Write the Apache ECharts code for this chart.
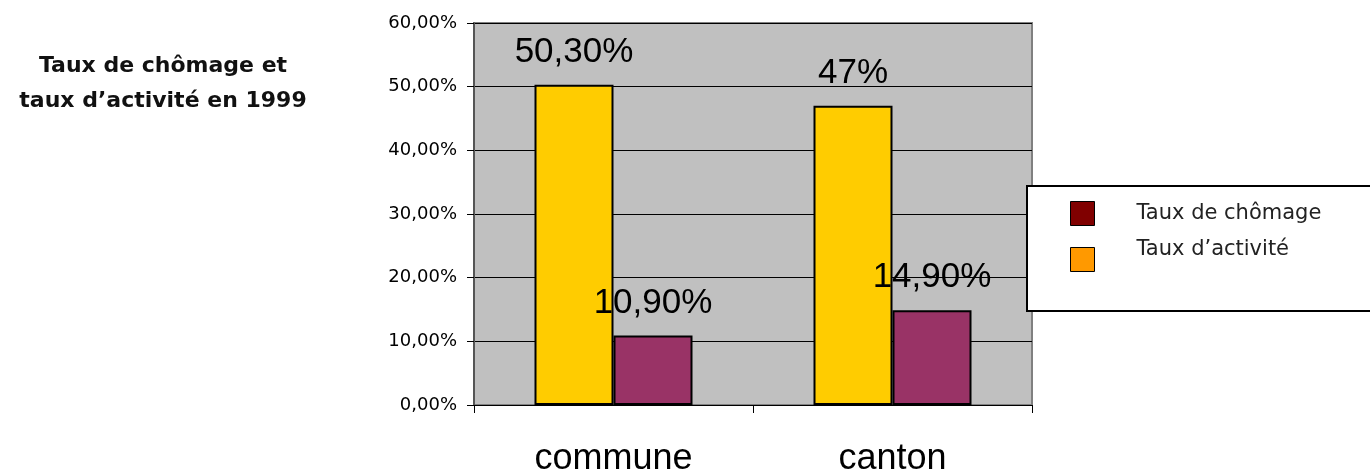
<!DOCTYPE html>
<html>
<head>
<meta charset="utf-8">
<script src="https://cdn.jsdelivr.net/npm/echarts@6/dist/echarts.min.js"></script>
<style>
  html, body { margin: 0; padding: 0; background: #fff; }
  #chart { width: 1370px; height: 470px; }
</style>
</head>
<body>
<div id="chart"></div>
<script>
  // données
  const categories = ['commune', 'canton'];
  const activite = [50.3, 47];
  const chomage = [10.9, 14.9];
  const activiteLabels = ['50,30%', '47%'];
  const chomageLabels = ['10,90%', '14,90%'];

  const myChart = echarts.init(document.getElementById('chart'));

  const pct = function (v) {
    return v.toFixed(2).replace('.', ',') + '%';
  };

  const barLabel = function (texts) {
    return {
      show: true,
      position: 'top',
      distance: 15,
      fontSize: 35,
      fontFamily: 'Liberation Sans',
      color: '#000',
      formatter: function (p) { return texts[p.dataIndex]; }
    };
  };

  const option = {
    backgroundColor: '#fff',
    animation: false,
    title: {
      text: 'Taux de chômage et\ntaux d\u2019activité en 1999',
      left: 158,
      top: 44,
      textAlign: 'center',
      textStyle: {
        fontFamily: 'DejaVu Sans',
        fontWeight: 'bold',
        fontSize: 22,
        lineHeight: 35,
        color: '#111'
      }
    },
    legend: {
      orient: 'vertical',
      left: 1027,
      top: 186,
      padding: [15, 200, 39, 43],
      itemWidth: 24,
      itemHeight: 24,
      itemGap: 13,
      borderColor: '#000',
      borderWidth: 2,
      backgroundColor: '#fff',
      icon: 'rect',
      formatter: function (name) {
        // le deuxième libellé est un peu plus haut que sa case
        return name.indexOf('activité') > -1 ? '{up|' + name + '}' : name;
      },
      textStyle: {
        fontFamily: 'DejaVu Sans',
        fontSize: 21,
        color: '#222',
        padding: [0, 0, 0, 37],
        rich: {
          up: {
            fontFamily: 'DejaVu Sans',
            fontSize: 21,
            color: '#222',
            padding: [0, 0, 20, 0]
          }
        }
      },
      data: [
        {
          name: 'Taux de chômage',
          itemStyle: { color: '#800000', borderColor: '#000', borderWidth: 1 }
        },
        {
          name: 'Taux d\u2019activité',
          itemStyle: { color: '#FF9900', borderColor: '#000', borderWidth: 1 }
        }
      ]
    },
    grid: {
      left: 474,
      right: 338,
      top: 23,
      bottom: 65,
      outerBoundsMode: 'none',
      show: true,
      backgroundColor: '#C0C0C0',
      borderColor: '#808080',
      borderWidth: 2
    },
    xAxis: {
      type: 'category',
      data: categories,
      axisLine: { lineStyle: { color: '#000', width: 1 } },
      axisTick: { show: true, length: 8, lineStyle: { color: '#000' } },
      axisLabel: {
        fontSize: 36,
        fontFamily: 'Liberation Sans',
        color: '#000',
        margin: 36
      }
    },
    yAxis: {
      type: 'value',
      min: 0,
      max: 60,
      interval: 10,
      axisLine: { show: true, lineStyle: { color: '#555', width: 2 } },
      axisTick: { show: true, length: 7, lineStyle: { color: '#000' } },
      splitLine: { lineStyle: { color: '#000', width: 1 } },
      axisLabel: {
        fontSize: 18,
        fontFamily: 'DejaVu Sans',
        color: '#000',
        margin: 17,
        formatter: pct
      }
    },
    series: [
      {
        name: 'Taux d\u2019activité',
        type: 'bar',
        barWidth: 79,
        barGap: '0%',
        data: activite,
        itemStyle: { color: '#FFCC00', borderColor: '#000', borderWidth: 2 },
        label: barLabel(activiteLabels)
      },
      {
        name: 'Taux de chômage',
        type: 'bar',
        barWidth: 79,
        barGap: '0%',
        data: chomage,
        itemStyle: { color: '#993366', borderColor: '#000', borderWidth: 2 },
        label: barLabel(chomageLabels)
      }
    ]
  };

  myChart.setOption(option);
</script>
</body>
</html>
